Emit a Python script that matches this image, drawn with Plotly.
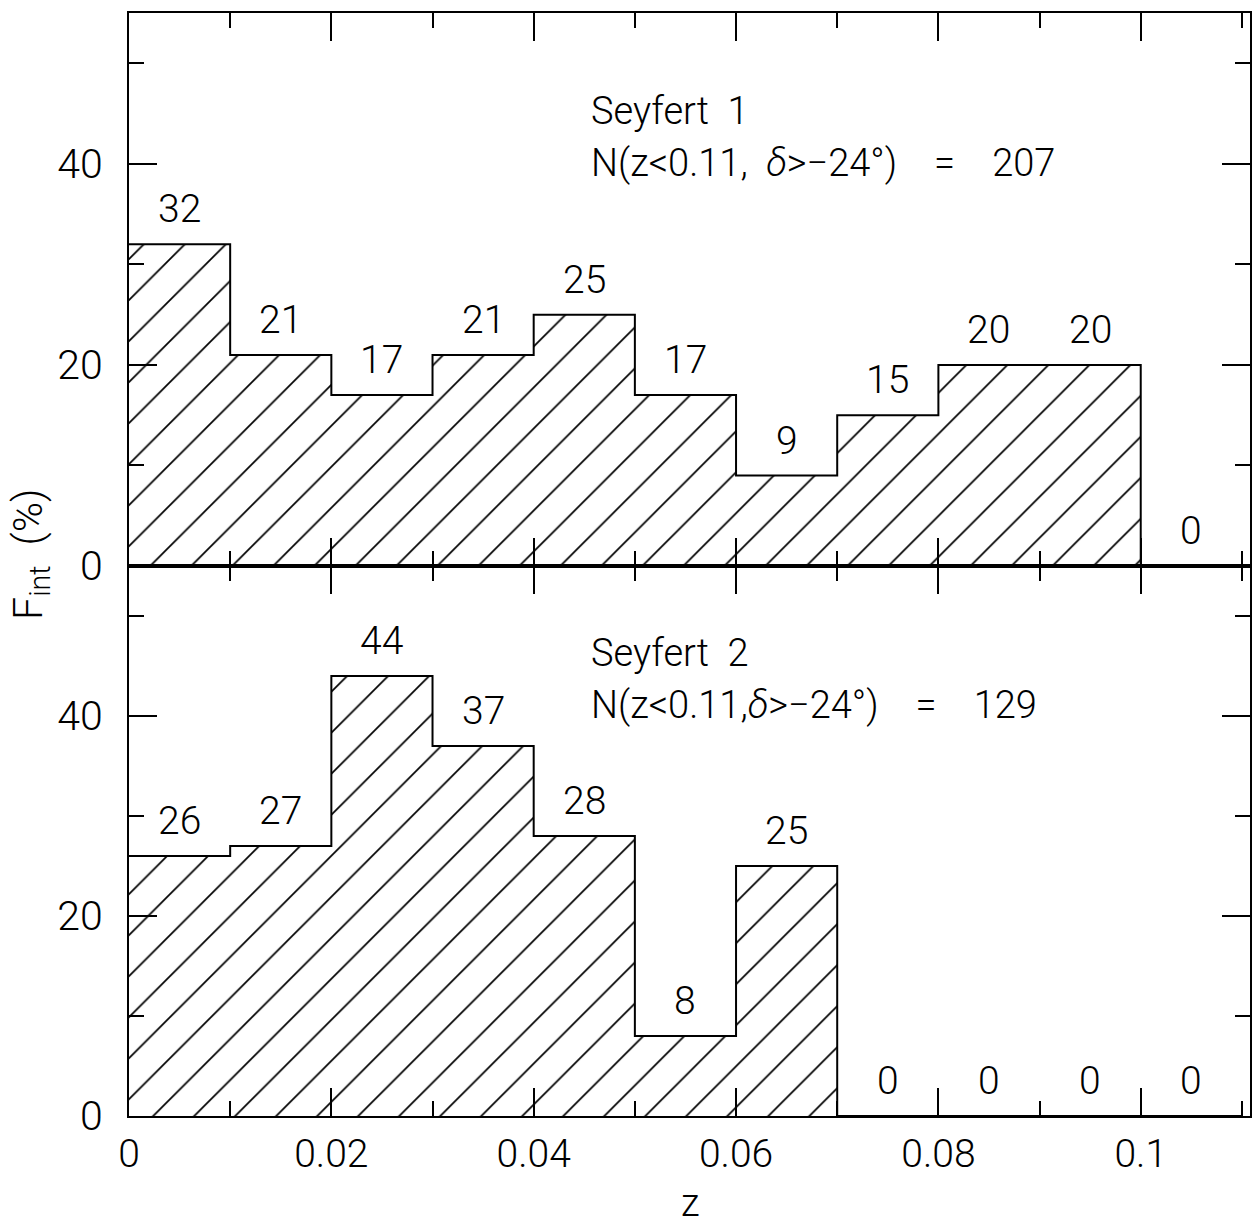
import plotly.graph_objects as go
from plotly.subplots import make_subplots

# Redshift bins (width 0.01) and percentage of interacting galaxies per bin
bin_edges = [0.00, 0.01, 0.02, 0.03, 0.04, 0.05, 0.06, 0.07, 0.08, 0.09, 0.10, 0.11]
sy1_pct = [32, 21, 17, 21, 25, 17, 9, 15, 20, 20, 0]
sy2_pct = [26, 27, 44, 37, 28, 8, 25, 0, 0, 0, 0]

sy1_title = "Seyfert  1"
sy1_count = "N(z<0.11,  <i>δ</i>>−24°)    =    207"
sy2_title = "Seyfert  2"
sy2_count = "N(z<0.11,<i>δ</i>>−24°)    =    129"

FONT = "Roboto"
WEIGHT = 300
bin_width = 0.01
centers = [e + bin_width / 2 for e in bin_edges[:-1]]

fig = make_subplots(rows=2, cols=1, shared_xaxes=True, vertical_spacing=0)


def txt(size):
    return dict(family=FONT, size=size, color="black", weight=WEIGHT)


def add_panel(values, row):
    # hatched histogram bars
    fig.add_trace(
        go.Bar(
            x=centers,
            y=values,
            width=bin_width,
            marker=dict(
                color="white",
                line=dict(width=0),
                pattern=dict(shape="/", size=29, solidity=0.06,
                             fgcolor="black", bgcolor="white", fillmode="replace"),
            ),
            showlegend=False,
            hoverinfo="skip",
        ),
        row=row, col=1,
    )
    # stepped outline of the histogram
    fig.add_trace(
        go.Scatter(
            x=bin_edges,
            y=values + [values[-1]],
            mode="lines",
            line=dict(shape="hv", color="black", width=2),
            showlegend=False,
            hoverinfo="skip",
        ),
        row=row, col=1,
    )
    # value labels above each bin
    xref = "x" if row == 1 else "x2"
    yref = "y" if row == 1 else "y2"
    for c, v in zip(centers, values):
        fig.add_annotation(
            x=c, y=v, xref=xref, yref=yref, text=str(v), showarrow=False,
            yanchor="bottom", yshift=10, font=txt(39),
        )


add_panel(sy1_pct, 1)
add_panel(sy2_pct, 2)

# panel captions (two lines each)
for title, count, xref, yref, y1, y2 in [
    (sy1_title, sy1_count, "x", "y", 45.3, 40.1),
    (sy2_title, sy2_count, "x2", "y2", 46.3, 41.1),
]:
    fig.add_annotation(x=0.0455, y=y1, xref=xref, yref=yref, text=title,
                       showarrow=False, xanchor="left", yanchor="middle", font=txt(38))
    fig.add_annotation(x=0.0455, y=y2, xref=xref, yref=yref, text=count,
                       showarrow=False, xanchor="left", yanchor="middle", font=txt(38))

# shared axis titles
fig.add_annotation(x=-0.088, y=0.509, xref="paper", yref="paper",
                   text="F<sub>int</sub>  (%)", textangle=-90, showarrow=False,
                   xanchor="center", yanchor="middle", font=txt(41))
fig.add_annotation(x=0.501, y=-0.079, xref="paper", yref="paper",
                   text="z", showarrow=False, xanchor="center", yanchor="middle",
                   font=txt(38))

xaxis_style = dict(
    range=[0, 0.1108], tick0=0, dtick=0.02,
    ticks="inside", ticklen=28, tickwidth=1.5, tickcolor="black",
    showline=True, linewidth=2, linecolor="black", mirror="ticks",
    showgrid=False, zeroline=False,
    minor=dict(dtick=0.01, ticks="inside", ticklen=15, tickwidth=1.5,
               tickcolor="black", showgrid=False),
    tickfont=txt(39),
    ticklabelstandoff=2,
)
yaxis_style = dict(
    range=[0, 55], tick0=0, dtick=20,
    ticks="inside", ticklen=28, tickwidth=1.5, tickcolor="black",
    showline=True, linewidth=2, linecolor="black", mirror="ticks",
    showgrid=False, zeroline=False,
    minor=dict(dtick=10, ticks="inside", ticklen=15, tickwidth=1.5,
               tickcolor="black", showgrid=False),
    tickfont=txt(41),
    ticklabelstandoff=16,
)

fig.update_xaxes(**xaxis_style)
fig.update_yaxes(**yaxis_style)
fig.update_xaxes(showticklabels=False, row=1, col=1)
fig.update_layout(
    yaxis=dict(domain=[0.4986, 1.0]),
    yaxis2=dict(domain=[0.0, 0.4986]),
    width=1255, height=1228,
    margin=dict(l=129, r=3, t=13, b=112),
    plot_bgcolor="white", paper_bgcolor="white",
    bargap=0, barmode="overlay",
)

fig.write_html("out.html")
